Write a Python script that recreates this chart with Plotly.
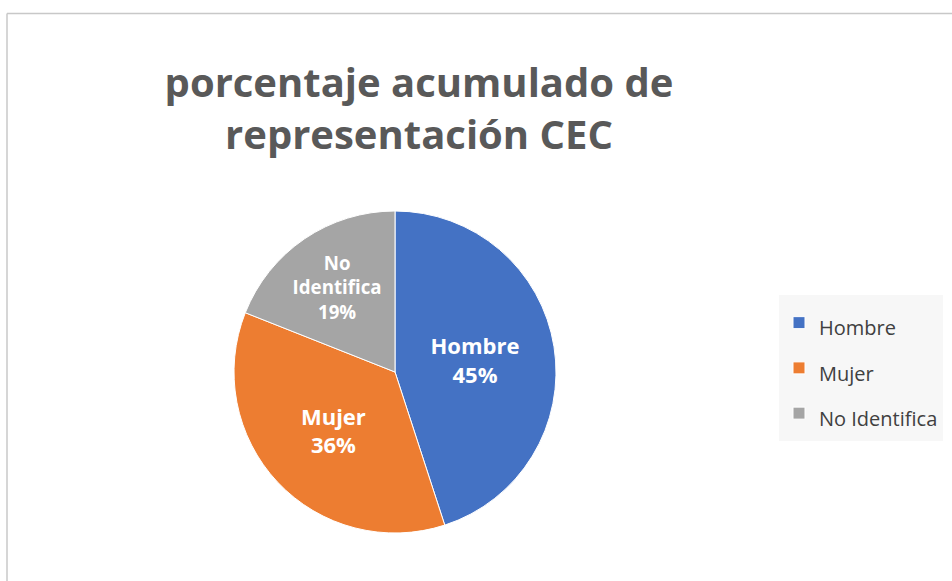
import plotly.graph_objects as go

categories = ["Hombre", "Mujer", "No Identifica"]
values = [45, 36, 19]
inside_labels = ["Hombre", "Mujer", "No<br>Identifica"]
colors = ["#4472C4", "#ED7D31", "#A5A5A5"]
title_text = "porcentaje acumulado de<br>representación CEC"

W, H = 952, 581
cx, cy, r = 395, 372, 161

legend_names = [f"<span style='font-size:20px'>{c}</span>" for c in categories]

fig = go.Figure(go.Pie(
    labels=legend_names,
    values=values,
    text=inside_labels,
    texttemplate="<b>%{text}<br>%{percent:.0%}</b>",
    textposition="inside",
    insidetextorientation="horizontal",
    textfont=dict(family="Open Sans", size=22, color="white"),
    marker=dict(colors=colors, line=dict(color="white", width=1)),
    sort=False,
    direction="clockwise",
    rotation=0,
    hoverinfo="label+percent",
    domain=dict(x=[(cx - r) / W, (cx + r) / W], y=[1 - (cy + r) / H, 1 - (cy - r) / H]),
))

fig.update_layout(
    width=W, height=H,
    margin=dict(l=0, r=0, t=0, b=0),
    paper_bgcolor="white",
    title=dict(text=f"<b>{title_text}</b>", x=419 / W, xanchor="center",
               y=1 - 97 / H, yanchor="middle",
               font=dict(family="Open Sans", size=40, color="#595959")),
    legend=dict(x=779 / W, y=1 - 295 / H, xanchor="left", yanchor="top",
                bgcolor="#F7F7F7", font=dict(family="Open Sans", size=32.5, color="#404040"),
                itemwidth=30),
    shapes=[
        dict(type="line", xref="paper", yref="paper", x0=7 / W, x1=1.01, y0=1 - 13.5 / H, y1=1 - 13.5 / H,
             line=dict(color="#C8C8C8", width=1.5)),
        dict(type="line", xref="paper", yref="paper", x0=7 / W, x1=7 / W, y0=-0.01, y1=1 - 13.5 / H,
             line=dict(color="#C8C8C8", width=1.5)),
    ],
)

fig.write_html("out.html", config={"displayModeBar": False},
               post_script="document.body.style.margin='0';document.body.style.overflow='hidden';")
